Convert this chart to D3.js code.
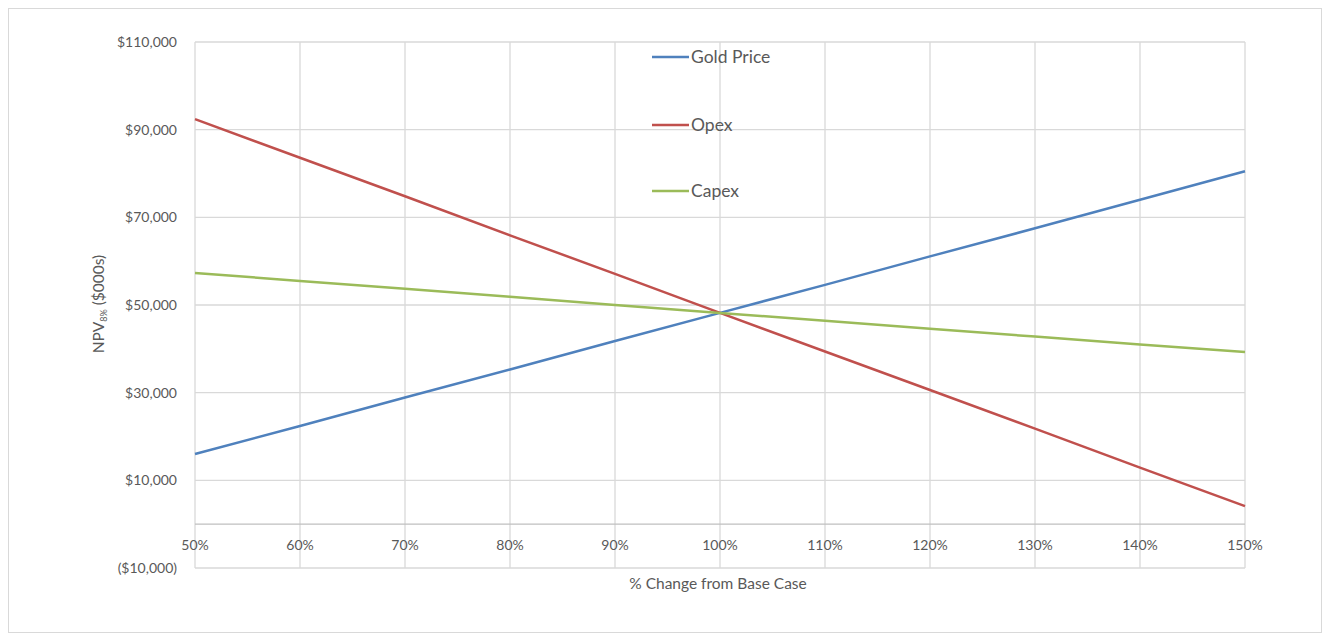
<!DOCTYPE html>
<html>
<head>
<meta charset="utf-8">
<script src="https://cdn.jsdelivr.net/npm/d3@7"></script>
<style>
  body { margin: 0; background: #fff; }
  svg { display: block; font-family: Lato, "Open Sans", sans-serif; }
</style>
</head>
<body>
<div id="chart"></div>
<script>
// Sensitivity data
const changes = [50, 60, 70, 80, 90, 100, 110, 120, 130, 140, 150];
const goldPrice = [16000, 22400, 28900, 35300, 41800, 48200, 54600, 61100, 67500, 74000, 80500];
const opex = [92400, 83600, 74800, 65900, 57100, 48200, 39400, 30600, 21800, 12900, 4100];
const capex = [57300, 55500, 53700, 51900, 50000, 48200, 46400, 44600, 42800, 41000, 39300];
const yTicks = [-10000, 10000, 30000, 50000, 70000, 90000, 110000];
const xTicks = [50, 60, 70, 80, 90, 100, 110, 120, 130, 140, 150];

const series = [
    { name: 'Gold Price', values: goldPrice, color: '#4f81bd' },
    { name: 'Opex', values: opex, color: '#c0504d' },
    { name: 'Capex', values: capex, color: '#9bbb59' }
];

const width = 1330, height = 640;
const svg = d3.select('#chart').append('svg')
    .attr('width', width)
    .attr('height', height);

// Outer frame
svg.append('rect')
    .attr('x', 8.5).attr('y', 8.5)
    .attr('width', 1313).attr('height', 624)
    .attr('fill', '#fff')
    .attr('stroke', '#d9d9d9');

const x = d3.scaleLinear().domain([50, 150]).range([195, 1245]);
const y = d3.scaleLinear().domain([-10000, 110000]).range([568, 42]);

const fmtMoney = v => v < 0 ? '($' + d3.format(',')(-v) + ')' : '$' + d3.format(',')(v);

// Horizontal gridlines
svg.append('g')
    .selectAll('line')
    .data(yTicks)
    .enter().append('line')
    .attr('x1', x(50)).attr('x2', x(150))
    .attr('y1', d => y(d)).attr('y2', d => y(d))
    .attr('stroke', '#d9d9d9')
    .attr('stroke-width', 1.3);

// Vertical gridlines
svg.append('g')
    .selectAll('line')
    .data(xTicks)
    .enter().append('line')
    .attr('x1', d => x(d)).attr('x2', d => x(d))
    .attr('y1', y(110000)).attr('y2', y(-10000))
    .attr('stroke', '#d9d9d9')
    .attr('stroke-width', 1.3);

// Zero axis line
svg.append('line')
    .attr('x1', x(50)).attr('x2', x(150))
    .attr('y1', y(0)).attr('y2', y(0))
    .attr('stroke', '#bfbfbf')
    .attr('stroke-width', 1.3);

// Y tick labels
svg.append('g')
    .selectAll('text')
    .data(yTicks)
    .enter().append('text')
    .attr('x', 177)
    .attr('y', d => y(d))
    .attr('dy', '0.35em')
    .attr('text-anchor', 'end')
    .attr('fill', '#595959')
    .style('font-size', '14px')
    .text(fmtMoney);

// X tick labels, sitting just under the zero line
svg.append('g')
    .selectAll('text')
    .data(xTicks)
    .enter().append('text')
    .attr('x', d => x(d))
    .attr('y', y(0) + 26)
    .attr('text-anchor', 'middle')
    .attr('fill', '#595959')
    .style('font-size', '14px')
    .text(d => d + '%');

// Axis titles
svg.append('text')
    .attr('x', x(100) - 2)
    .attr('y', 589)
    .attr('text-anchor', 'middle')
    .attr('fill', '#595959')
    .style('font-size', '15.5px')
    .text('% Change from Base Case');

const yTitle = svg.append('text')
    .attr('transform', 'translate(104,304) rotate(-90)')
    .attr('text-anchor', 'middle')
    .attr('fill', '#595959')
    .style('font-size', '15.5px');
yTitle.append('tspan').text('NPV');
yTitle.append('tspan').attr('dy', 3).style('font-size', '9px').text('8%');
yTitle.append('tspan').attr('dy', -3).text(' ($000s)');

// Lines
const line = d3.line()
    .x((d, i) => x(changes[i]))
    .y(d => y(d));

svg.append('g')
    .selectAll('path')
    .data(series)
    .enter().append('path')
    .attr('d', d => line(d.values))
    .attr('fill', 'none')
    .attr('stroke', d => d.color)
    .attr('stroke-width', 2.5);

// Legend
const legendY = [57, 125, 191];
const legend = svg.append('g')
    .selectAll('g')
    .data(series)
    .enter().append('g')
    .attr('transform', (d, i) => `translate(652,${legendY[i]})`);

legend.append('line')
    .attr('x1', 0).attr('x2', 37)
    .attr('stroke', d => d.color)
    .attr('stroke-width', 2.5);

legend.append('text')
    .attr('x', 39)
    .attr('dy', '0.35em')
    .attr('fill', '#595959')
    .style('font-size', '17.5px')
    .text(d => d.name);
</script>
</body>
</html>
